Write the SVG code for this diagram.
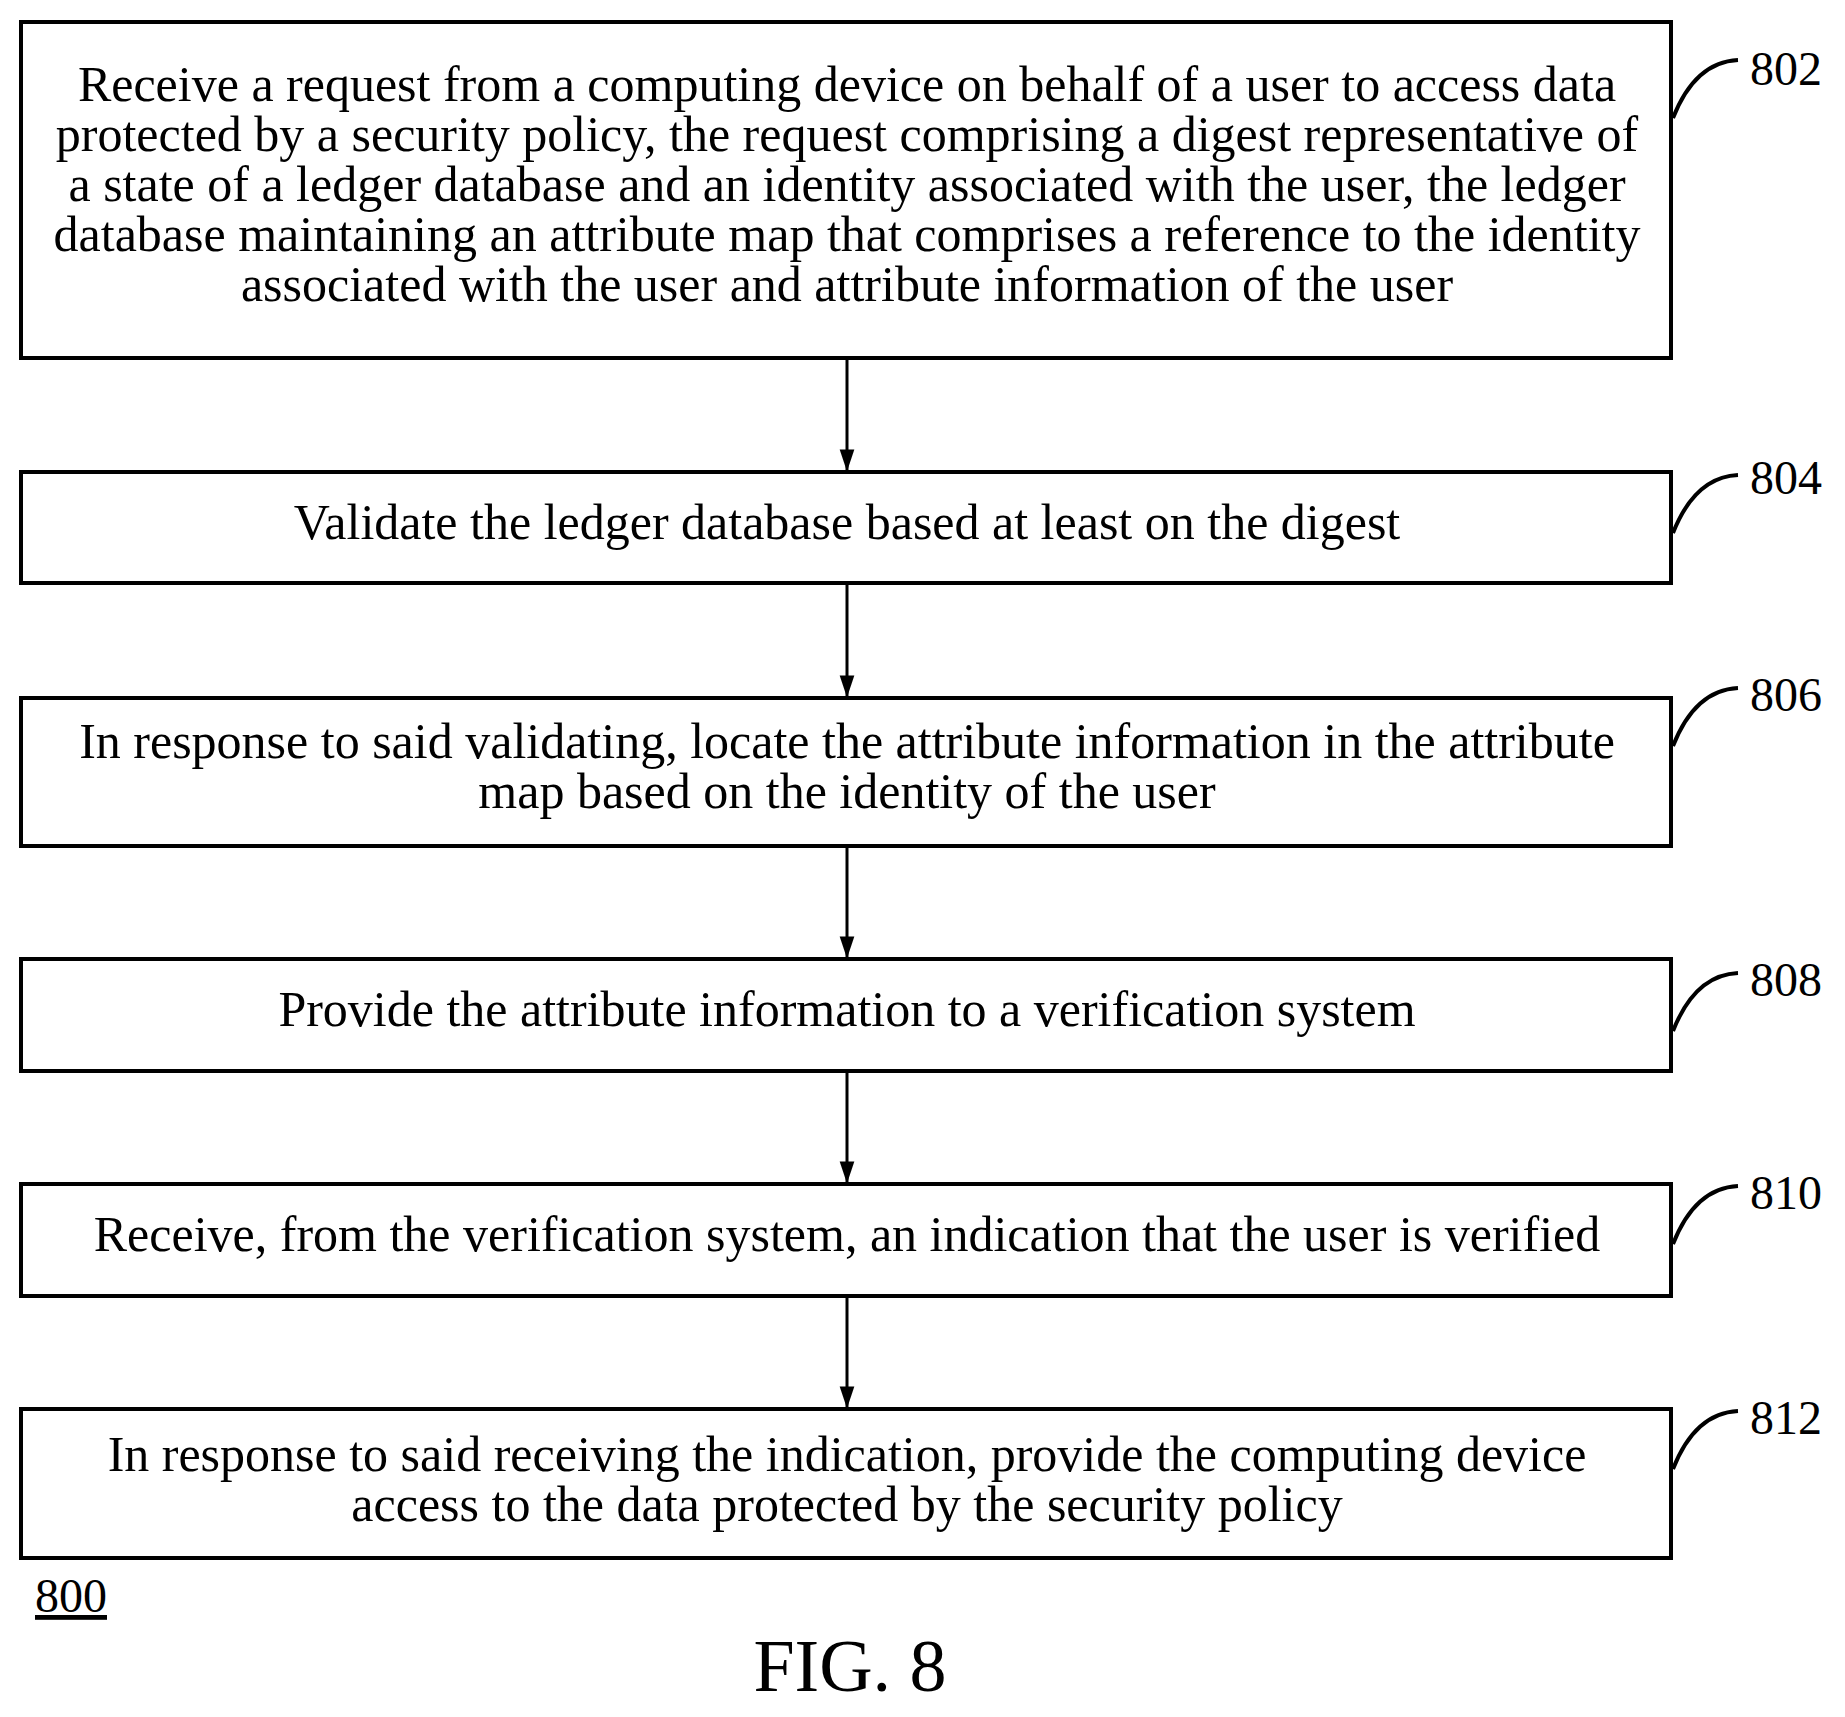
<svg xmlns="http://www.w3.org/2000/svg" width="1845" height="1717" viewBox="0 0 1845 1717">
<style>
.b{fill:#fff;stroke:#000;stroke-width:4}
.t{font-family:"Liberation Serif",serif;font-size:50px;text-anchor:middle}
.l{font-family:"Liberation Serif",serif;font-size:48px}
.c{fill:none;stroke:#000;stroke-width:4}
</style>
<defs><marker id="a" markerWidth="22" markerHeight="30" refX="28" refY="10" orient="auto" markerUnits="userSpaceOnUse" viewBox="0 0 30 20"><path d="M0,0L30,10L0,20z"/></marker></defs>
<rect width="1845" height="1717" fill="#fff"/>
<g id="n802"><rect class="b" x="21" y="22" width="1650" height="336"/>
<text class="t" x="847" y="101">Receive a request from a computing device on behalf of a user to access data</text>
<text class="t" x="847" y="151">protected by a security policy, the request comprising a digest representative of</text>
<text class="t" x="847" y="201">a state of a ledger database and an identity associated with the user, the ledger</text>
<text class="t" x="847" y="251">database maintaining an attribute map that comprises a reference to the identity</text>
<text class="t" x="847" y="301">associated with the user and attribute information of the user</text>
<path class="c" d="M1673,118 Q1695,62 1738,60"/><text class="l" x="1750" y="85">802</text></g>
<g id="n804"><rect class="b" x="21" y="472" width="1650" height="111"/>
<text class="t" x="847" y="539">Validate the ledger database based at least on the digest</text>
<path class="c" d="M1673,533 Q1695,477 1738,475"/><text class="l" x="1750" y="494">804</text></g>
<g id="n806"><rect class="b" x="21" y="698" width="1650" height="148"/>
<text class="t" x="847" y="758">In response to said validating, locate the attribute information in the attribute</text>
<text class="t" x="847" y="808">map based on the identity of the user</text>
<path class="c" d="M1673,746 Q1695,690 1738,688"/><text class="l" x="1750" y="711">806</text></g>
<g id="n808"><rect class="b" x="21" y="959" width="1650" height="112"/>
<text class="t" x="847" y="1026">Provide the attribute information to a verification system</text>
<path class="c" d="M1673,1031 Q1695,975 1738,973"/><text class="l" x="1750" y="996">808</text></g>
<g id="n810"><rect class="b" x="21" y="1184" width="1650" height="112"/>
<text class="t" x="847" y="1251">Receive, from the verification system, an indication that the user is verified</text>
<path class="c" d="M1673,1244 Q1695,1188 1738,1186"/><text class="l" x="1750" y="1209">810</text></g>
<g id="n812"><rect class="b" x="21" y="1409" width="1650" height="149"/>
<text class="t" x="847" y="1471">In response to said receiving the indication, provide the computing device</text>
<text class="t" x="847" y="1521">access to the data protected by the security policy</text>
<path class="c" d="M1673,1469 Q1695,1413 1738,1411"/><text class="l" x="1750" y="1434">812</text></g>
<g id="connectors" stroke="#000" stroke-width="3" marker-end="url(#a)">
<line x1="847" y1="360" x2="847" y2="470"/>
<line x1="847" y1="585" x2="847" y2="696"/>
<line x1="847" y1="848" x2="847" y2="957"/>
<line x1="847" y1="1073" x2="847" y2="1182"/>
<line x1="847" y1="1298" x2="847" y2="1407"/>
</g>
<text class="l" x="35" y="1612" text-decoration="underline">800</text>
<text class="t" x="850" y="1691" style="font-size:74px">FIG. 8</text>
</svg>
